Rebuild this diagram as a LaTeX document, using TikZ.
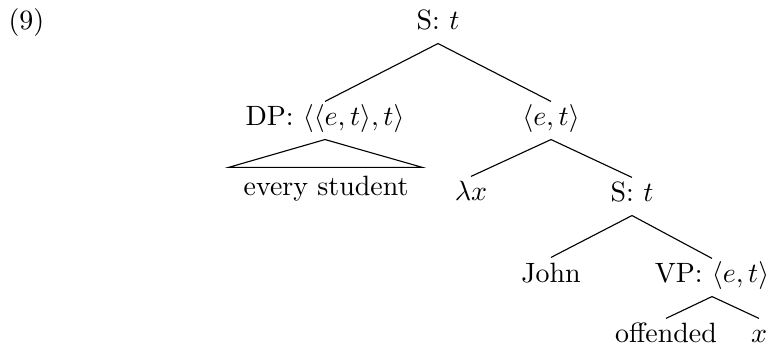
\documentclass[tikz,border=0pt]{standalone}
\usetikzlibrary{calc}
\begin{document}
\begin{tikzpicture}[x=0.358pt,y=-0.358pt,
  lbl/.style={anchor=base,inner sep=2pt,text height=6.6pt,text depth=2.65pt},
  branch/.style={draw=black,line width=0.4pt}]
\useasboundingbox (0,0) rectangle (770,347);
\node[anchor=base west,inner sep=0pt] (ex) at (8,30) {(9)};
\node[lbl] (top) at (438,30) {S: $t$};
\node[lbl] (dp) at (325,126) {DP: $\langle\langle e,t\rangle,t\rangle$};
\node[lbl] (et) at (551,126) {$\langle e,t\rangle$};
\node[lbl] (es) at (326,196) {every student};
\node[lbl] (lam) at (471,201) {$\lambda x$};
\node[lbl] (s2) at (632,202) {S: $t$};
\node[lbl] (john) at (551,282) {John};
\node[lbl] (vp) at (712,283) {VP: $\langle e,t\rangle$};
\node[lbl] (off) at (666,343) {offended};
\node[lbl] (x) at (759,343) {$x$};
\coordinate (tl) at ($(es.north west)+(-9,-4)$);
\coordinate (tr) at ($(es.north east)+(8,-4)$);
\draw[branch] (top.south) -- (dp.north);
\draw[branch] (top.south) -- (et.north);
\draw[branch] (dp.south) -- (tl) -- (tr) -- cycle;
\draw[branch] (et.south) -- (lam.north);
\draw[branch] (et.south) -- (s2.north);
\draw[branch] (s2.south) -- (john.north);
\draw[branch] (s2.south) -- (vp.north);
\draw[branch] (vp.south) -- (off.north);
\draw[branch] (vp.south) -- (x.north);
\end{tikzpicture}
\end{document}
